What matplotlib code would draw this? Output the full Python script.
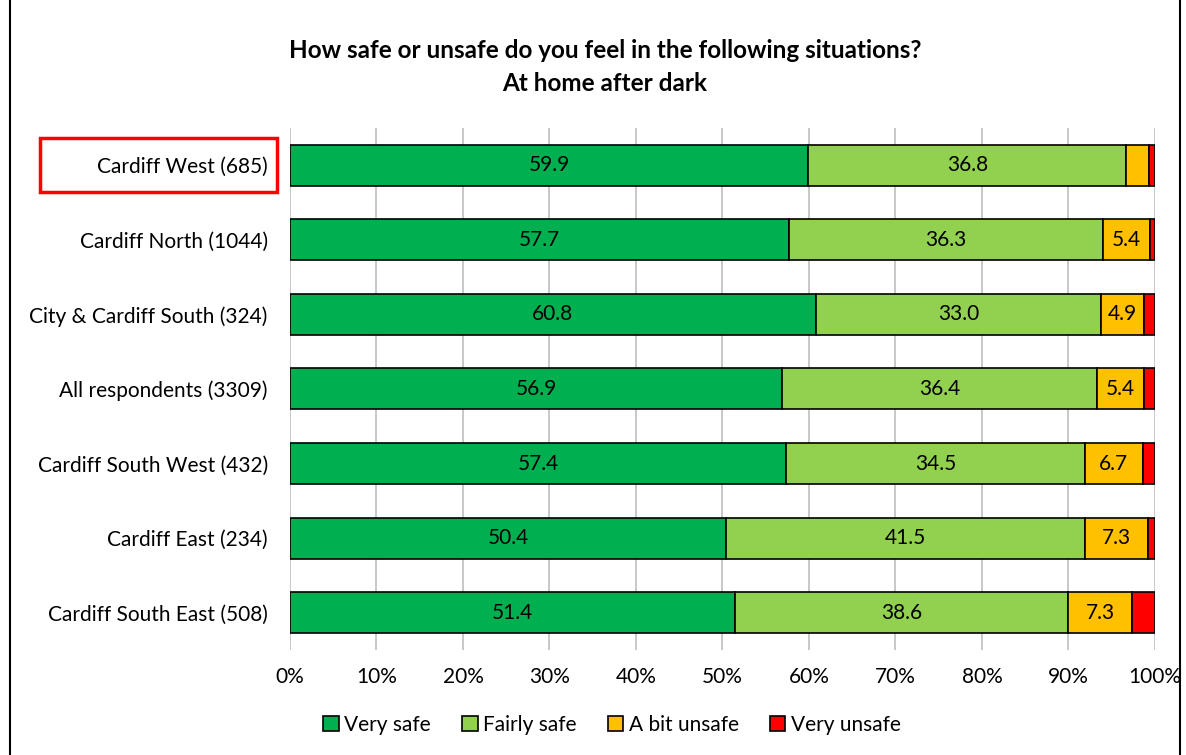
import matplotlib.pyplot as plt
import numpy as np
from matplotlib.patches import Rectangle

plt.rcParams['font.family'] = ['Lato', 'DejaVu Sans']

regions = ["Cardiff West (685)", "Cardiff North (1044)", "City & Cardiff South (324)",
           "All respondents (3309)", "Cardiff South West (432)", "Cardiff East (234)",
           "Cardiff South East (508)"]
very_safe = [59.9, 57.7, 60.8, 56.9, 57.4, 50.4, 51.4]
fairly_safe = [36.8, 36.3, 33.0, 36.4, 34.5, 41.5, 38.6]
bit_unsafe = [2.6, 5.4, 4.9, 5.4, 6.7, 7.3, 7.3]
very_unsafe = [0.7, 0.6, 1.3, 1.3, 1.4, 0.8, 2.7]
# labels shown on the chart (small segments left blank)
shown = [[True] * 7, [True] * 7, [False, True, True, True, True, True, True], [False] * 7]

series = [("Very safe", very_safe, "#00b050"),
          ("Fairly safe", fairly_safe, "#92d050"),
          ("A bit unsafe", bit_unsafe, "#ffc000"),
          ("Very unsafe", very_unsafe, "#ff0000")]

fig = plt.figure(figsize=(11.86, 7.55), dpi=100)
ax = fig.add_axes([0.2445, 0.1391, 0.7293, 0.6914])

y = np.arange(len(regions))
left = np.zeros(len(regions))
for k, (name, vals, col) in enumerate(series):
    vals = np.array(vals)
    ax.barh(y, vals, left=left, height=0.55, color=col, edgecolor="black",
            linewidth=1.2, label=name, zorder=3)
    for i, v in enumerate(vals):
        if shown[k][i]:
            ax.text(left[i] + v / 2, y[i], f"{v:.1f}", ha="center", va="center",
                    fontsize=15, color="black", zorder=4)
    left += vals

ax.set_xlim(0, 100)
ax.set_ylim(len(regions) - 0.5, -0.5)
ax.set_xticks(np.arange(0, 101, 10))
ax.set_xticklabels([f"{t}%" for t in range(0, 101, 10)], fontsize=15)
ax.set_yticks(y)
ax.set_yticklabels(regions, fontsize=15)
ax.tick_params(axis="y", length=0, pad=16)
ax.tick_params(axis="x", length=0, pad=12)
ax.grid(axis="x", color="#bfbfbf", linewidth=1.2, zorder=0)
for s in ax.spines.values():
    s.set_visible(False)

fig.text(0.51, 0.933, "How safe or unsafe do you feel in the following situations?",
         ha="center", va="center", fontsize=17.5, fontweight="bold")
fig.text(0.51, 0.889, "At home after dark", ha="center", va="center",
         fontsize=17.5, fontweight="bold")

fig.legend(loc="center", bbox_to_anchor=(0.516, 0.04), ncol=4, frameon=False,
           fontsize=15, handlelength=0.75, handleheight=0.75, handletextpad=0.25,
           columnspacing=1.5)

# red highlight box around the first label
fig.patches.append(Rectangle((40 / 1186, 1 - 192 / 755), 237 / 1186, 54 / 755,
                             transform=fig.transFigure, fill=False,
                             edgecolor="#ff0000", linewidth=2.5))
# chart border
fig.patches.append(Rectangle((10 / 1186, -0.01), 1170 / 1186, 1.03,
                             transform=fig.transFigure, fill=False,
                             edgecolor="black", linewidth=1.5))

fig.savefig("out.png", dpi=100)
